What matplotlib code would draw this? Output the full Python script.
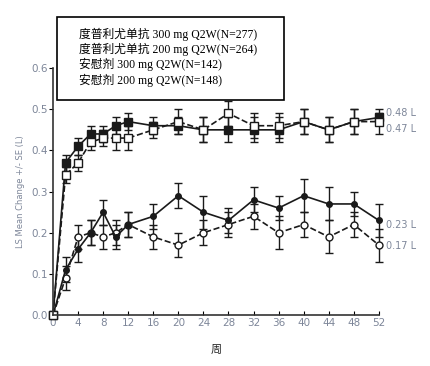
import numpy as np
import matplotlib.pyplot as plt

plt.rcParams['font.family'] = ['DejaVu Sans', 'Noto Sans CJK SC']

# datos
weeks = [0, 2, 4, 6, 8, 10, 12, 16, 20, 24, 28, 32, 36, 40, 44, 48, 52]
dup300 = [0, 0.37, 0.41, 0.44, 0.44, 0.46, 0.47, 0.46, 0.46, 0.45, 0.45, 0.45, 0.45, 0.47, 0.45, 0.47, 0.48]
dup300_se = [0, 0.02, 0.02, 0.02, 0.02, 0.02, 0.02, 0.02, 0.02, 0.03, 0.03, 0.03, 0.03, 0.03, 0.03, 0.03, 0.01]
dup200 = [0, 0.34, 0.37, 0.42, 0.43, 0.43, 0.43, 0.45, 0.47, 0.45, 0.49, 0.46, 0.46, 0.47, 0.45, 0.47, 0.47]
dup200_se = [0, 0.02, 0.02, 0.02, 0.02, 0.03, 0.03, 0.02, 0.03, 0.03, 0.03, 0.03, 0.03, 0.03, 0.03, 0.03, 0.03]
pla300 = [0, 0.11, 0.16, 0.20, 0.25, 0.19, 0.22, 0.24, 0.29, 0.25, 0.23, 0.28, 0.26, 0.29, 0.27, 0.27, 0.23]
pla300_se = [0, 0.03, 0.03, 0.03, 0.03, 0.03, 0.03, 0.03, 0.03, 0.04, 0.03, 0.03, 0.03, 0.04, 0.04, 0.03, 0.04]
pla200 = [0, 0.09, 0.19, 0.20, 0.19, 0.20, 0.22, 0.19, 0.17, 0.20, 0.22, 0.24, 0.20, 0.22, 0.19, 0.22, 0.17]
pla200_se = [0, 0.03, 0.03, 0.03, 0.03, 0.03, 0.03, 0.03, 0.03, 0.03, 0.03, 0.03, 0.04, 0.03, 0.04, 0.03, 0.04]
end_labels = ['0.48 L', '0.47 L', '0.23 L', '0.17 L']
legend_lines = ['度普利尤单抗 300 mg Q2W(N=277)',
                '度普利尤单抗 200 mg Q2W(N=264)',
                '安慰剂 300 mg Q2W(N=142)',
                '安慰剂 200 mg Q2W(N=148)']

fig = plt.figure(figsize=(4.31, 3.66), dpi=100)
ax = fig.add_axes([0.123, 0.139, 0.756, 0.675])

gris = '#7d8699'
estilo = dict(color='#1a1a1a', lw=1.2, elinewidth=1.0, capsize=3, capthick=1.0, clip_on=False)
ax.errorbar(weeks, pla200, yerr=pla200_se, fmt='--o', mfc='white', mec='#1a1a1a', ms=5, **estilo)
ax.errorbar(weeks, pla300, yerr=pla300_se, fmt='-o', mfc='#1a1a1a', mec='#1a1a1a', ms=4, **estilo)
ax.errorbar(weeks, dup300, yerr=dup300_se, fmt='-s', mfc='#1a1a1a', mec='#1a1a1a', ms=6, **estilo)
ax.errorbar(weeks, dup200, yerr=dup200_se, fmt='--s', mfc='white', mec='#1a1a1a', ms=6, **estilo)

ax.set_xlim(0, 52)
ax.set_ylim(0, 0.6)
ax.set_xticks(np.arange(0, 53, 4))
ax.set_yticks([0, 0.1, 0.2, 0.3, 0.4, 0.5, 0.6])
ax.set_yticklabels(['0.0', '0.1', '0.2', '0.3', '0.4', '0.5', '0.6'])
ax.spines['top'].set_visible(False)
ax.spines['right'].set_visible(False)
for s in ['left', 'bottom']:
    ax.spines[s].set_linewidth(1.2)
    ax.spines[s].set_color('#333333')
ax.tick_params(axis='x', direction='in', length=3, labelsize=7.5, labelcolor=gris, pad=2)
ax.tick_params(axis='y', direction='out', length=3, labelsize=7.5, labelcolor=gris, pad=1)
ax.set_ylabel('LS Mean Change +/- SE (L)', fontsize=6, color=gris, labelpad=4)
ax.set_xlabel('周', fontsize=8, color='#222222', labelpad=12)

# etiquetas finales
for val, txt in zip([0.492, 0.452, 0.218, 0.168], end_labels):
    ax.text(53.2, val, txt, fontsize=7, color=gris, va='center', clip_on=False)

# cuadro de leyenda
fig.text(0.183, 0.925, '\n'.join(legend_lines), fontsize=8.5,
         family=['Liberation Serif', 'Noto Sans CJK SC'], va='top', ha='left',
         linespacing=1.2)
caja = plt.Rectangle((0.132, 0.727), 0.527, 0.226, transform=fig.transFigure,
                     fill=True, facecolor='white', edgecolor='black', lw=1.2, zorder=5)
fig.patches.append(caja)
fig.texts[-1].set_zorder(6)

plt.savefig('out.png', dpi=100)
